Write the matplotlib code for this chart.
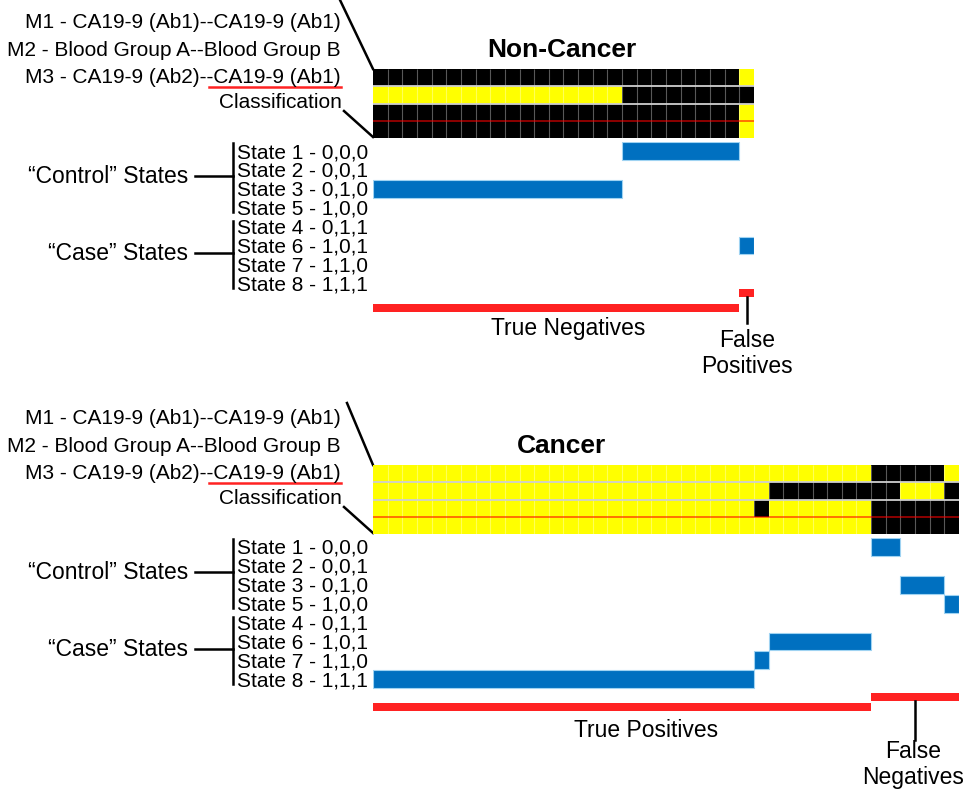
import numpy as np
import matplotlib
matplotlib.use("Agg")
import matplotlib.pyplot as plt
from matplotlib.colors import ListedColormap

plt.rcParams['font.family'] = ['Liberation Sans', 'DejaVu Sans']

# per-sample marker calls (1 = yellow, 0 = black), left to right
nc_m1 = [0, 0, 0, 0, 0, 0, 0, 0, 0, 0, 0, 0, 0, 0, 0, 0, 0, 0, 0, 0, 0, 0, 0, 0, 0, 1]
nc_m2 = [1, 1, 1, 1, 1, 1, 1, 1, 1, 1, 1, 1, 1, 1, 1, 1, 1, 0, 0, 0, 0, 0, 0, 0, 0, 0]
nc_m3 = [0, 0, 0, 0, 0, 0, 0, 0, 0, 0, 0, 0, 0, 0, 0, 0, 0, 0, 0, 0, 0, 0, 0, 0, 0, 1]
nc_cls = [0, 0, 0, 0, 0, 0, 0, 0, 0, 0, 0, 0, 0, 0, 0, 0, 0, 0, 0, 0, 0, 0, 0, 0, 0, 1]

ca_m1 = [1, 1, 1, 1, 1, 1, 1, 1, 1, 1, 1, 1, 1, 1, 1, 1, 1, 1, 1, 1,
         1, 1, 1, 1, 1, 1, 1, 1, 1, 1, 1, 1, 1, 1, 0, 0, 0, 0, 0, 1]
ca_m2 = [1, 1, 1, 1, 1, 1, 1, 1, 1, 1, 1, 1, 1, 1, 1, 1, 1, 1, 1, 1,
         1, 1, 1, 1, 1, 1, 1, 0, 0, 0, 0, 0, 0, 0, 0, 0, 1, 1, 1, 0]
ca_m3 = [1, 1, 1, 1, 1, 1, 1, 1, 1, 1, 1, 1, 1, 1, 1, 1, 1, 1, 1, 1,
         1, 1, 1, 1, 1, 1, 0, 1, 1, 1, 1, 1, 1, 1, 0, 0, 0, 0, 0, 0]
ca_cls = [1, 1, 1, 1, 1, 1, 1, 1, 1, 1, 1, 1, 1, 1, 1, 1, 1, 1, 1, 1,
          1, 1, 1, 1, 1, 1, 1, 1, 1, 1, 1, 1, 1, 1, 0, 0, 0, 0, 0, 0]

marker_labels = ["M1 - CA19-9 (Ab1)--CA19-9 (Ab1)",
                 "M2 - Blood Group A--Blood Group B",
                 "M3 - CA19-9 (Ab2)--CA19-9 (Ab1)",
                 "Classification"]
state_codes = [(0, 0, 0), (0, 0, 1), (0, 1, 0), (1, 0, 0),
               (0, 1, 1), (1, 0, 1), (1, 1, 0), (1, 1, 1)]
state_names = ["State 1", "State 2", "State 3", "State 5",
               "State 4", "State 6", "State 7", "State 8"]

W, H = 965, 789
YELLOW = "#FFFF00"
BLUE = "#0070C0"
RED = "#FF2222"
CELL = 14.65
ROW_H = 17.3
PITCH = 18.9

fig = plt.figure(figsize=(W / 100, H / 100), dpi=100)
ov = fig.add_axes([0, 0, 1, 1])
ov.set_xlim(0, W)
ov.set_ylim(H, 0)
ov.axis("off")


def px_axes(left, top, right, bottom):
    ax = fig.add_axes([left / W, 1 - bottom / H, (right - left) / W, (bottom - top) / H])
    ax.axis("off")
    return ax


def runs(values):
    out = []
    start = 0
    for i in range(1, len(values) + 1):
        if i == len(values) or values[i] != values[start]:
            out.append((values[start], start, i - start))
            start = i
    return out


def panel(off, title, m1, m2, m3, cls, truth, true_lbl, false_lbl,
          true_y, false_y, tick_end, true_pos, false_pos):
    n = len(m1)
    left = 373
    right = left + n * CELL

    # heatmap of marker calls
    grid = np.array([m1, m2, m3, cls])
    hx = px_axes(left, 69 + off, right, 69 + off + 4 * ROW_H)
    hx.pcolormesh(np.arange(n + 1), np.arange(5), grid,
                  cmap=ListedColormap(["black", YELLOW]), vmin=0, vmax=1)
    hx.vlines(np.arange(1, n), 0, 4, color="white", alpha=0.35, lw=0.8)
    hx.hlines([1, 2], 0, n, color="#cfcfcf", lw=1.3)
    hx.hlines([3], 0, n, color="red", alpha=0.7, lw=1.1)
    hx.set_xlim(0, n)
    hx.set_ylim(4, 0)

    # state assignment bars
    sx = px_axes(left, 151 + off - 0.5 * PITCH, right, 151 + off + 9.5 * PITCH)
    states = [state_codes.index(c) for c in zip(m1, m2, m3)]
    for st, start, length in runs(states):
        sx.barh(st, length, left=start, height=0.95, color=BLUE,
                edgecolor="#9fd3f2", lw=0.8)
    correct = [int(c == truth) for c in cls]
    for ok, start, length in runs(correct):
        sx.barh(true_y if ok else false_y, length, left=start, height=0.42,
                color=RED, lw=0)
        if not ok:
            mid = start + length / 2
            sx.plot([mid, mid], [false_y + 0.21, tick_end], color="black",
                    lw=1.8, clip_on=False)
    sx.set_xlim(0, n)
    sx.set_ylim(9.5, -0.5)

    # titles and labels
    ov.text(562, 57 + off, title, fontsize=19, fontweight="bold",
            ha="center", va="baseline")
    for lbl, base in zip(marker_labels, [28, 56, 83, 108]):
        ov.text(341 if lbl != "Classification" else 342, base + off, lbl,
                fontsize=15, ha="right", va="baseline")
    ov.plot([209, 341], [86.5 + off, 86.5 + off], color=RED, lw=1.8)
    ov.plot([340 + (7 if off else 0), 373], [(0 if not off else 7) + off, 69 + off], color="black", lw=1.8)
    ov.plot([344, 373], [111 + off, 137 + off], color="black", lw=1.8)

    for i, (name, code) in enumerate(zip(state_names, state_codes)):
        ov.text(237, 158 + off + PITCH * i,
                "%s - %d,%d,%d" % (name, code[0], code[1], code[2]),
                fontsize=15, ha="left", va="baseline")
    ov.plot([233, 233], [143 + off, 212 + off], color="black", lw=1.8)
    ov.plot([233, 233], [221 + off, 288 + off], color="black", lw=1.8)
    ov.plot([195, 233], [176 + off, 176 + off], color="black", lw=1.8)
    ov.plot([195, 233], [253 + off, 253 + off], color="black", lw=1.8)
    ov.text(188, 183 + off, "\u201cControl\u201d States", fontsize=16.5,
            ha="right", va="baseline")
    ov.text(188, 260 + off, "\u201cCase\u201d States", fontsize=16.5,
            ha="right", va="baseline")

    ov.text(true_pos[0], true_pos[1], true_lbl, fontsize=16.5,
            ha="center", va="baseline")
    ov.text(false_pos[0], false_pos[1], false_lbl, fontsize=16.5,
            ha="center", va="baseline", linespacing=1.15)


panel(0, "Non-Cancer", nc_m1, nc_m2, nc_m3, nc_cls, 0,
      "True Negatives", "False\nPositives", 8.31, 7.51, 9.1,
      (568, 335), (747, 373))
panel(396, "Cancer", ca_m1, ca_m2, ca_m3, ca_cls, 1,
      "True Positives", "False\nNegatives", 8.47, 7.94, 10.2,
      (646, 737), (913, 784))

fig.savefig("out.png", dpi=100)
